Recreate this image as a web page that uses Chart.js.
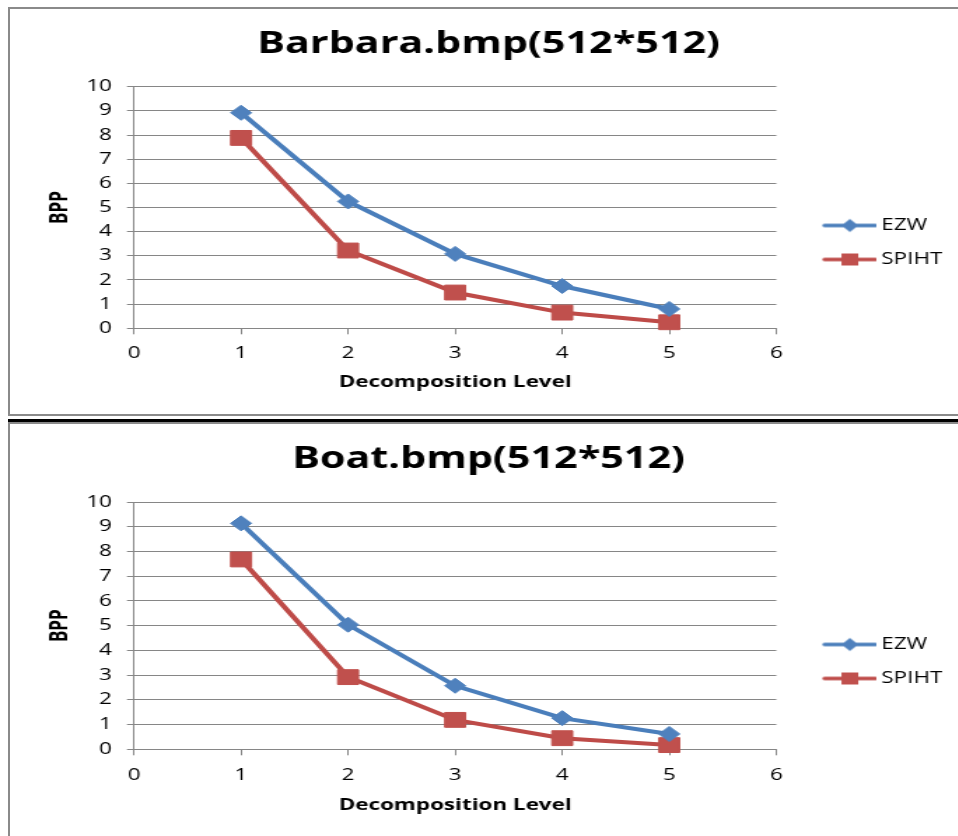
<!DOCTYPE html>
<html>
<head>
<meta charset="utf-8">
<script src="https://cdn.jsdelivr.net/npm/chart.js@4/dist/chart.umd.min.js"></script>
<style>
html,body{margin:0;padding:0;background:#fff;width:958px;height:836px;overflow:hidden;position:relative;}
.frame{position:absolute;border:2px solid #8a8a8a;box-sizing:border-box;}
#f1{left:8px;top:7px;width:990px;height:409px;}
#f2{left:8px;top:422px;width:990px;height:440px;}
#sep{position:absolute;left:8px;top:419px;width:960px;height:3px;background:#000;}
.wrap{position:absolute;left:0;transform-origin:0 0;transform:scaleX(1.4);}
#w1{top:0;}
#w2{top:417px;}
canvas{display:block;}
</style>
</head>
<body>
<div class="frame" id="f1"></div>
<div id="sep"></div>
<div class="frame" id="f2"></div>
<div class="wrap" id="w1"><canvas id="c1" width="685" height="415"></canvas></div>
<div class="wrap" id="w2"><canvas id="c2" width="685" height="419"></canvas></div>
<script>
// ---- data ----
const xLevels = [1, 2, 3, 4, 5];
const xTickValues = [0, 1, 2, 3, 4, 5, 6];
const yTickValues = [0, 1, 2, 3, 4, 5, 6, 7, 8, 9, 10];
const seriesNames = ['EZW', 'SPIHT'];
const barbaraTitle = 'Barbara.bmp(512*512)';
const boatTitle = 'Boat.bmp(512*512)';
const barbaraEZW = [8.92, 5.25, 3.08, 1.75, 0.80];
const barbaraSPIHT = [7.88, 3.22, 1.48, 0.65, 0.25];
const boatEZW = [9.14, 5.04, 2.57, 1.26, 0.62];
const boatSPIHT = [7.68, 2.92, 1.19, 0.45, 0.17];
const xAxisTitle = 'Decomposition Level';
const yAxisTitle = 'BPP';

// ---- styles ----
const FONT = '"Open Sans", "DejaVu Sans", sans-serif';
const GRID = '#868686';
const BLUE_LINE = '#4A7EBB', BLUE_FILL = '#4F81BD';
const RED_LINE = '#BE4B48', RED_FILL = '#C0504D';

function legendSymbol(line, fill, shape) {
  const c = document.createElement('canvas');
  c.width = 58; c.height = 16;
  const g = c.getContext('2d');
  g.strokeStyle = line; g.lineWidth = 3.5; g.lineCap = 'round';
  g.beginPath(); g.moveTo(21, 8); g.lineTo(57, 8); g.stroke();
  g.fillStyle = fill;
  const cx = 39, cy = 8;
  if (shape === 'diamond') {
    g.beginPath(); g.moveTo(cx, cy - 6.5); g.lineTo(cx + 6, cy); g.lineTo(cx, cy + 6.5); g.lineTo(cx - 6, cy); g.closePath(); g.fill();
  } else {
    g.fillRect(cx - 6, cy - 6, 12, 12);
  }
  return c;
}

function makeChart(canvas, title, ezw, spiht, p) {
  const symbols = [legendSymbol(BLUE_LINE, BLUE_FILL, 'diamond'), legendSymbol(RED_LINE, RED_FILL, 'square')];
  const legendShift = {
    id: 'legendShift',
    afterLayout(chart) {
      const l = chart.legend;
      if (l) { l.top += p.legendDy; l.bottom += p.legendDy; }
    }
  };
  return new Chart(canvas, {
    type: 'line',
    data: {
      datasets: [
        {
          label: seriesNames[0],
          data: xLevels.map((x, i) => ({ x: x, y: ezw[i] })),
          borderColor: BLUE_LINE, backgroundColor: BLUE_FILL, borderWidth: 4,
          pointStyle: 'rectRot', pointRadius: 7.5, pointBorderWidth: 1,
          pointBackgroundColor: BLUE_FILL, pointBorderColor: BLUE_FILL,
          tension: 0, clip: false, fill: false
        },
        {
          label: seriesNames[1],
          data: xLevels.map((x, i) => ({ x: x, y: spiht[i] })),
          borderColor: RED_LINE, backgroundColor: RED_FILL, borderWidth: 4,
          pointStyle: 'rect', pointRadius: 10.5, pointBorderWidth: 1,
          pointBackgroundColor: RED_FILL, pointBorderColor: RED_FILL,
          tension: 0, clip: false, fill: false
        }
      ]
    },
    options: {
      responsive: false,
      animation: false,
      devicePixelRatio: 1,
      layout: { padding: { left: 15, right: 2, top: 0, bottom: p.padB } },
      plugins: {
        title: {
          display: true, text: title, color: '#000',
          font: { family: FONT, size: 29.5, weight: 'bold', lineHeight: 1.2 },
          padding: { top: p.titleTop, bottom: p.titleBottom }
        },
        legend: {
          position: 'right', align: 'center', maxWidth: 128.7,
          labels: {
            usePointStyle: true, pointStyleWidth: 49, padding: 18, color: '#000',
            font: { family: FONT, size: 16 },
            generateLabels: (chart) => Chart.defaults.plugins.legend.labels.generateLabels(chart)
              .map((it, i) => Object.assign({}, it, { pointStyle: symbols[i] }))
          }
        },
        tooltip: { enabled: false }
      },
      scales: {
        x: {
          type: 'linear', min: xTickValues[0], max: xTickValues[xTickValues.length - 1],
          afterBuildTicks: (s) => { s.ticks = xTickValues.map(v => ({ value: v })); },
          afterFit: (s) => { s.height = p.xAxisH; },
          grid: { drawOnChartArea: false, drawTicks: true, tickLength: 6, color: GRID, lineWidth: 1 },
          border: { color: GRID, width: 1 },
          ticks: { padding: p.xTickPad, color: '#000', font: { family: FONT, size: 16 } },
          title: {
            display: true, text: xAxisTitle, color: '#000',
            font: { family: FONT, size: 16, weight: 'bold', lineHeight: 1.2 },
            padding: { top: 0, bottom: 0 }
          }
        },
        y: {
          type: 'linear', min: yTickValues[0], max: yTickValues[yTickValues.length - 1],
          afterBuildTicks: (s) => { s.ticks = yTickValues.map(v => ({ value: v })); },
          afterFit: (s) => { s.width = 80.7; },
          grid: { color: GRID, lineWidth: 1, tickLength: 5 },
          border: { color: GRID, width: 1 },
          ticks: { padding: 10.7, color: '#000', font: { family: FONT, size: 16 } },
          title: {
            display: true, text: yAxisTitle, color: '#000',
            font: { family: FONT, size: 17, weight: 'bold', lineHeight: 1.2 },
            padding: { top: 18.3, bottom: 0 }
          }
        }
      }
    },
    plugins: [legendShift]
  });
}

function build() {
  makeChart(document.getElementById('c1'), barbaraTitle, barbaraEZW, barbaraSPIHT,
    { padB: 23.1, titleTop: 27, titleBottom: 24.3, xAxisH: 63.6, xTickPad: 9.4, legendDy: 46.5 });
  makeChart(document.getElementById('c2'), boatTitle, boatEZW, boatSPIHT,
    { padB: 21.4, titleTop: 25, titleBottom: 24.7, xAxisH: 65.3, xTickPad: 10.1, legendDy: 45.7 });
}

const fontLoads = ['bold 30px "Open Sans"', '16px "Open Sans"', 'bold 16px "Open Sans"']
  .map(f => document.fonts && document.fonts.load ? document.fonts.load(f).catch(() => null) : Promise.resolve());
Promise.all(fontLoads).then(build, build);
</script>
</body>
</html>
